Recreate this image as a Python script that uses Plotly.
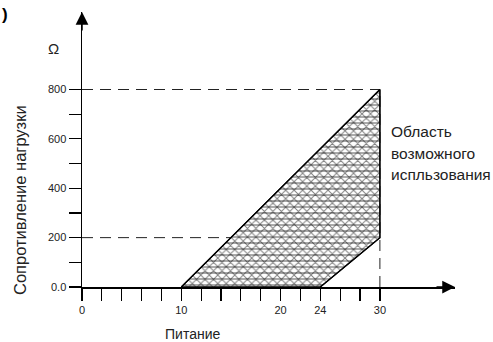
import plotly.graph_objects as go

# ---- data ----
area_vdc = [10, 30, 30, 24, 10]          # operating area polygon, supply voltage (Vdc)
area_ohm = [0, 800, 200, 0, 0]           # operating area polygon, load resistance (Ω)
x_tickvals = list(range(0, 31, 2))
x_ticklabels = {0: "0", 10: "10", 20: "20", 24: "24", 30: "30"}
y_tickvals = list(range(0, 801, 100))
y_ticklabels = {0: "0.0", 200: "200", 400: "400", 600: "600", 800: "800"}
limit_vdc = [0, 30]
limit_ohm_low = [200, 200]
limit_ohm_high = [800, 800]
limit_vdc_max = [30, 30]
limit_ohm_span = [0, 800]

FONT = "Liberation Sans, Arial, sans-serif"
DASH = "11px,7px"

W, H = 493, 342
L, R, T, B = 82, 38, 12, 55
pw, ph = W - L - R, H - T - B
px_per_v = 9.93
px_per_ohm = (287 - 89.5) / 800
x_max = pw / px_per_v
y_max = ph / px_per_ohm

fig = go.Figure()

# dashed guide lines (drawn first, under the hatched area)
for xs, ys in [(limit_vdc, limit_ohm_high), (limit_vdc, limit_ohm_low), (limit_vdc_max, limit_ohm_span)]:
    fig.add_trace(go.Scatter(x=xs, y=ys, mode="lines",
                             line=dict(color="#222", width=1, dash=DASH),
                             hoverinfo="skip", showlegend=False))

# hatched operating area: diagonal cross + horizontal lines
fig.add_trace(go.Scatter(x=area_vdc, y=area_ohm, mode="lines", fill="toself",
                         fillcolor="white",
                         fillpattern=dict(shape="x", fgcolor="black", bgcolor="white",
                                          size=6, solidity=0.3),
                         line=dict(color="black", width=1.2),
                         hoverinfo="skip", showlegend=False))
fig.add_trace(go.Scatter(x=area_vdc, y=area_ohm, mode="lines", fill="toself",
                         fillcolor="rgba(0,0,0,0)",
                         fillpattern=dict(shape="-", fgcolor="black",
                                          size=6, solidity=0.22),
                         line=dict(color="black", width=1.2),
                         hoverinfo="skip", showlegend=False))

# axis unit label "Vdc" as a text mark below the end of the x axis
fig.add_trace(go.Scatter(x=[(442 - L) / px_per_v], y=[-(311 - 287) / px_per_ohm],
                         mode="text", text=["Vdc"], cliponaxis=False,
                         textposition="middle center",
                         textfont=dict(size=22, color="#444", family=FONT),
                         hoverinfo="skip", showlegend=False))


def px(xpix):
    return (xpix - L) / pw


def py(ypix):
    return (H - B - ypix) / ph


def label(text, x, y, size=14, color="#222", xanchor="center", **kw):
    return dict(text=text, xref="paper", yref="paper", x=px(x), y=py(y),
                xanchor=xanchor, yanchor="middle", showarrow=False,
                font=dict(size=size, color=color), **kw)


def arrow(tip_x, tip_y, ax, ay):
    return dict(text="", xref="paper", yref="paper", x=tip_x, y=tip_y,
                axref="pixel", ayref="pixel", ax=ax, ay=ay,
                showarrow=True, arrowhead=2, arrowsize=1.7, arrowwidth=1.5,
                arrowcolor="black", standoff=0, startstandoff=0)


fig.update_layout(
    width=W, height=H,
    margin=dict(l=L, r=R, t=T, b=B),
    paper_bgcolor="white", plot_bgcolor="white",
    font=dict(family=FONT, size=11, color="#222"),
    hovermode=False, dragmode=False,
    xaxis=dict(range=[0, x_max], showgrid=False, zeroline=False, fixedrange=True,
               showline=True, linecolor="black", linewidth=1.5,
               ticks="outside", ticklen=12, tickwidth=1.2, tickcolor="black",
               tickvals=x_tickvals,
               ticktext=[x_ticklabels.get(v, "") for v in x_tickvals],
               tickfont=dict(size=11, color="#222")),
    yaxis=dict(range=[0, y_max], showgrid=False, zeroline=False, fixedrange=True,
               showline=True, linecolor="black", linewidth=1.5,
               ticks="outside", ticklen=12, tickwidth=1.2, tickcolor="black",
               tickvals=y_tickvals,
               ticktext=[y_ticklabels.get(v, "") for v in y_tickvals],
               tickfont=dict(size=11, color="#222")),
    annotations=[
        arrow(1, 0, -20, 0),
        arrow(0, 1, 0, 20),
        label("Ω", 53, 49, size=15),
        label("Сопротивление нагрузки", 20, 200, size=16.5, textangle=-90),
        label("Питание", 192, 334, size=14),
        label("Область", 389, 131, size=15.5, xanchor="left"),
        label("возможного", 389, 153, size=15.5, xanchor="left"),
        label("испльзования", 389, 174, size=15.5, xanchor="left"),
        label("<b>)</b>", 0, 14, size=17, color="black", xanchor="left"),
    ],
)

fig.write_html("out.html", config={"staticPlot": True},
               post_script="document.body.style.margin='0';")
